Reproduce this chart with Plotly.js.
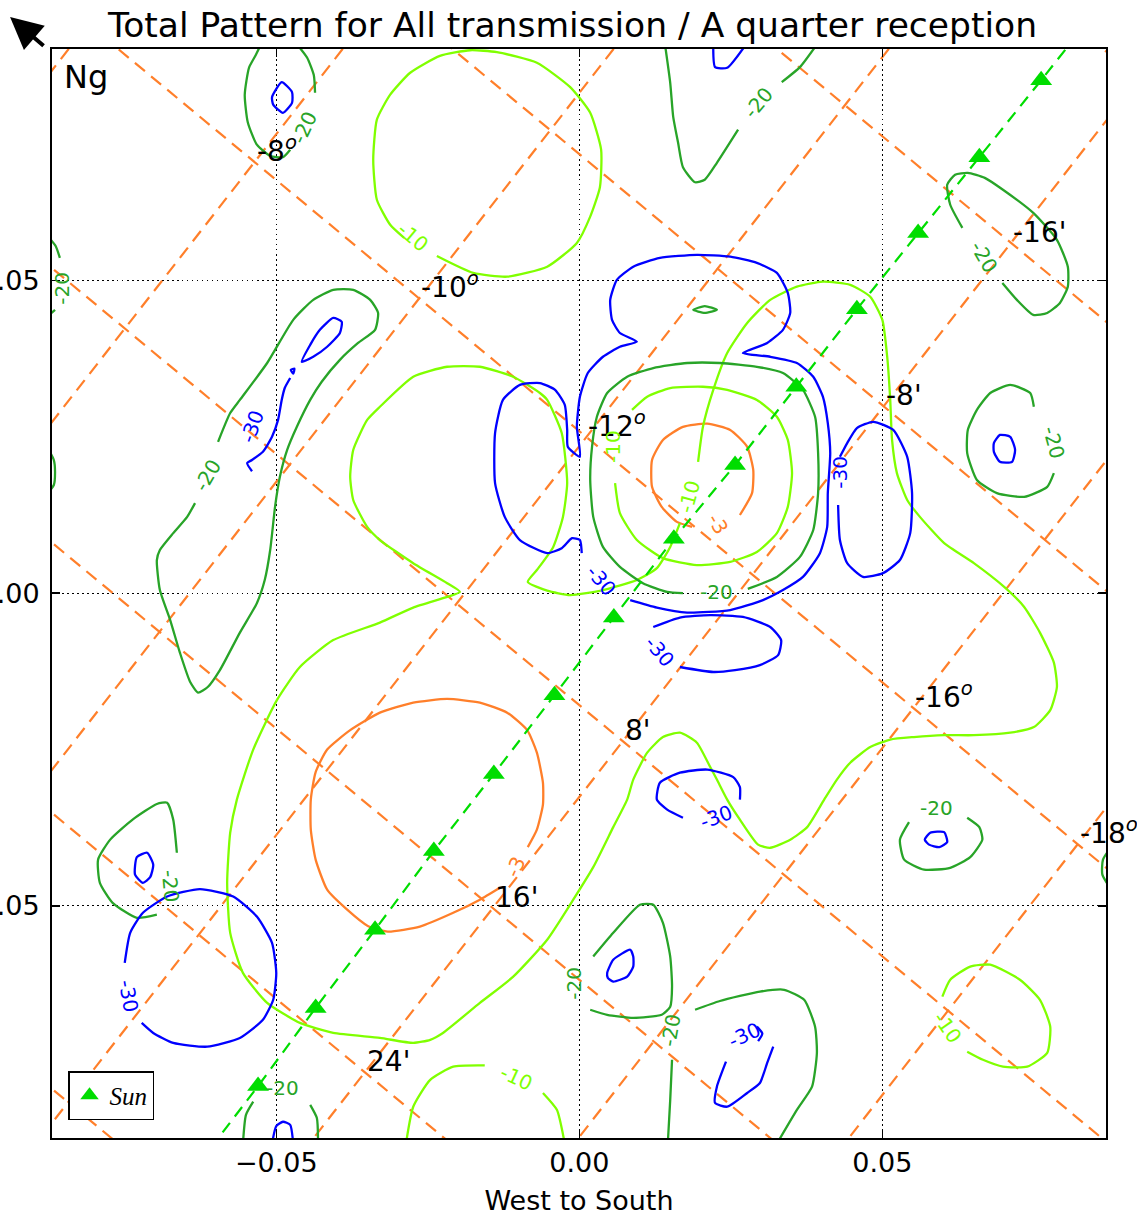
<!DOCTYPE html>
<html>
<head>
<meta charset="utf-8">
<script src="https://cdn.plot.ly/plotly-3.0.1.min.js"></script>
<style>
html,body{margin:0;padding:0;background:#ffffff;}
#chart{width:1137px;height:1221px;}
</style>
</head>
<body>
<div id="chart"></div>
<script>
// ================= DATA =================

// Contour levels (dB) and their line pieces [x, y] (West to South / vertical axis units)
const contourLevels = [-3, -10, -20, -30];

const contourM3 = [
  [[0.0265,0.0125],[0.0285,0.0160],[0.0287,0.0197],[0.0277,0.0234],[0.0249,0.0261],[0.0211,0.0271],[0.0171,0.0266],[0.0138,0.0245],[0.0120,0.0213],[0.0120,0.0170],[0.0136,0.0138],[0.0161,0.0114],[0.0186,0.0106]],
  [[-0.0131,-0.0471],[-0.0164,-0.0490],[-0.0208,-0.0511],[-0.0263,-0.0533],[-0.0316,-0.0541],[-0.0349,-0.0532],[-0.0383,-0.0506],[-0.0416,-0.0474],[-0.0435,-0.0426],[-0.0443,-0.0378],[-0.0443,-0.0330],[-0.0435,-0.0286],[-0.0416,-0.0250],[-0.0378,-0.0219],[-0.0329,-0.0191],[-0.0274,-0.0175],[-0.0218,-0.0169],[-0.0164,-0.0175],[-0.0119,-0.0191],[-0.0086,-0.0219],[-0.0070,-0.0255],[-0.0060,-0.0303],[-0.0060,-0.0338],[-0.0070,-0.0378],[-0.0085,-0.0406]]
];

const contourM10 = [
  [[-0.0235,0.0539],[-0.0175,0.0512],[-0.0119,0.0506],[-0.0053,0.0522],[-0.0004,0.0560],[0.0018,0.0602],[0.0034,0.0649],[0.0036,0.0709],[0.0018,0.0768],[-0.0015,0.0809],[-0.0070,0.0848],[-0.0136,0.0865],[-0.0180,0.0868],[-0.0230,0.0859],[-0.0279,0.0832],[-0.0312,0.0797],[-0.0334,0.0757],[-0.0340,0.0693],[-0.0334,0.0629],[-0.0312,0.0589],[-0.0289,0.0568]],
  [[0.0196,0.0210],[0.0204,0.0266],[0.0221,0.0325],[0.0244,0.0384],[0.0277,0.0432],[0.0315,0.0469],[0.0359,0.0490],[0.0402,0.0498],[0.0447,0.0493],[0.0480,0.0474],[0.0500,0.0437],[0.0508,0.0378],[0.0513,0.0309],[0.0516,0.0245],[0.0524,0.0192],[0.0541,0.0149],[0.0562,0.0122],[0.0602,0.0080],[0.0651,0.0048],[0.0701,0.0010],[0.0734,-0.0022],[0.0760,-0.0063],[0.0783,-0.0111],[0.0788,-0.0150],[0.0777,-0.0187],[0.0750,-0.0214],[0.0711,-0.0223],[0.0651,-0.0227],[0.0602,-0.0227],[0.0552,-0.0230],[0.0513,-0.0234],[0.0480,-0.0246],[0.0447,-0.0271],[0.0425,-0.0298],[0.0404,-0.0330],[0.0376,-0.0374],[0.0348,-0.0394],[0.0315,-0.0407],[0.0295,-0.0402],[0.0265,-0.0362],[0.0244,-0.0330],[0.0227,-0.0298],[0.0216,-0.0278],[0.0194,-0.0239],[0.0166,-0.0223],[0.0138,-0.0230],[0.0112,-0.0255],[0.0089,-0.0298],[0.0079,-0.0330],[0.0056,-0.0374],[0.0023,-0.0438],[-0.0010,-0.0490],[-0.0053,-0.0554],[-0.0109,-0.0613],[-0.0164,-0.0655],[-0.0225,-0.0703],[-0.0246,-0.0714],[-0.0274,-0.0719],[-0.0329,-0.0711],[-0.0406,-0.0703],[-0.0461,-0.0687],[-0.0515,-0.0655],[-0.0555,-0.0607],[-0.0576,-0.0543],[-0.0581,-0.0463],[-0.0576,-0.0383],[-0.0565,-0.0330],[-0.0538,-0.0250],[-0.0499,-0.0171],[-0.0461,-0.0118],[-0.0406,-0.0075],[-0.0329,-0.0047],[-0.0274,-0.0023],[-0.0218,-0.0006],[-0.0197,0.0002],[-0.0218,0.0016],[-0.0274,0.0048],[-0.0329,0.0085],[-0.0350,0.0106],[-0.0373,0.0149],[-0.0378,0.0186],[-0.0373,0.0229],[-0.0350,0.0277],[-0.0329,0.0298],[-0.0274,0.0346],[-0.0218,0.0362],[-0.0164,0.0362],[-0.0109,0.0346],[-0.0065,0.0320],[-0.0053,0.0309],[-0.0029,0.0256],[-0.0020,0.0176],[-0.0027,0.0122],[-0.0043,0.0074],[-0.0070,0.0037],[-0.0085,0.0018],[-0.0053,0.0004],[-0.0015,-0.0003],[0.0039,0.0005],[0.0095,0.0021],[0.0128,0.0040],[0.0150,0.0074],[0.0166,0.0112]],
  [[0.0059,0.0176],[0.0067,0.0128],[0.0095,0.0085],[0.0138,0.0056],[0.0194,0.0045],[0.0249,0.0050],[0.0293,0.0066],[0.0326,0.0096],[0.0344,0.0138],[0.0351,0.0192],[0.0344,0.0245],[0.0326,0.0282],[0.0293,0.0309],[0.0244,0.0325],[0.0204,0.0330],[0.0150,0.0328],[0.0112,0.0314],[0.0087,0.0293]],
  [[-0.0286,-0.0880],[-0.0274,-0.0821],[-0.0246,-0.0778],[-0.0208,-0.0757],[-0.0156,-0.0755]],
  [[-0.0060,-0.0799],[-0.0037,-0.0826],[-0.0024,-0.0880]],
  [[0.0599,-0.0645],[0.0612,-0.0618],[0.0645,-0.0597],[0.0678,-0.0594],[0.0727,-0.0618],[0.0760,-0.0650],[0.0777,-0.0693],[0.0772,-0.0735],[0.0739,-0.0757],[0.0699,-0.0757],[0.0666,-0.0746],[0.0640,-0.0733]]
];

const contourM20 = [
  [[-0.0468,0.0880],[-0.0449,0.0856],[-0.0438,0.0828],[-0.0436,0.0800]],
  [[-0.0477,0.0709],[-0.0489,0.0697],[-0.0510,0.0699],[-0.0532,0.0717],[-0.0547,0.0753],[-0.0552,0.0797],[-0.0545,0.0840],[-0.0534,0.0860],[-0.0524,0.0880]],
  [[-0.0880,0.0574],[-0.0864,0.0555],[-0.0857,0.0536]],
  [[-0.0865,0.0453],[-0.0880,0.0440]],
  [[-0.0880,0.0237],[-0.0867,0.0213],[-0.0865,0.0194],[-0.0867,0.0173],[-0.0880,0.0157]],
  [[-0.0596,0.0242],[-0.0576,0.0288],[-0.0560,0.0309],[-0.0515,0.0368],[-0.0472,0.0437],[-0.0439,0.0469],[-0.0406,0.0485],[-0.0373,0.0485],[-0.0345,0.0469],[-0.0332,0.0448],[-0.0337,0.0421],[-0.0365,0.0400],[-0.0395,0.0373],[-0.0425,0.0338],[-0.0444,0.0309],[-0.0466,0.0266],[-0.0482,0.0229],[-0.0494,0.0186],[-0.0502,0.0138],[-0.0510,0.0069],[-0.0519,0.0021],[-0.0532,-0.0016],[-0.0560,-0.0063],[-0.0593,-0.0123],[-0.0613,-0.0150],[-0.0629,-0.0159],[-0.0642,-0.0142],[-0.0659,-0.0095],[-0.0675,-0.0043],[-0.0692,0.0005],[-0.0697,0.0053],[-0.0692,0.0069],[-0.0670,0.0096],[-0.0647,0.0122],[-0.0634,0.0144]],
  [[0.0278,0.0007],[0.0326,0.0026],[0.0364,0.0058],[0.0386,0.0101],[0.0394,0.0160],[0.0394,0.0224],[0.0389,0.0282],[0.0369,0.0325],[0.0336,0.0352],[0.0293,0.0362],[0.0232,0.0368],[0.0178,0.0368],[0.0122,0.0360],[0.0079,0.0346],[0.0046,0.0320],[0.0029,0.0282],[0.0021,0.0234],[0.0018,0.0181],[0.0023,0.0122],[0.0039,0.0074],[0.0067,0.0042],[0.0105,0.0016],[0.0145,0.0002],[0.0171,0.0000]],
  [[0.0141,0.0880],[0.0150,0.0816],[0.0155,0.0761],[0.0163,0.0720],[0.0171,0.0681],[0.0191,0.0657],[0.0207,0.0661],[0.0227,0.0688],[0.0262,0.0741]],
  [[0.0334,0.0817],[0.0364,0.0841],[0.0394,0.0880]],
  [[0.0632,0.0584],[0.0612,0.0621],[0.0607,0.0653],[0.0620,0.0669],[0.0641,0.0672],[0.0669,0.0664],[0.0699,0.0645],[0.0749,0.0608],[0.0788,0.0565],[0.0806,0.0522],[0.0806,0.0490],[0.0793,0.0464],[0.0772,0.0448],[0.0749,0.0445],[0.0722,0.0469],[0.0698,0.0496]],
  [[0.0750,0.0298],[0.0744,0.0320],[0.0711,0.0333],[0.0678,0.0320],[0.0656,0.0293],[0.0641,0.0261],[0.0640,0.0224],[0.0656,0.0181],[0.0689,0.0160],[0.0734,0.0154],[0.0772,0.0170],[0.0783,0.0192]],
  [[0.0640,-0.0359],[0.0660,-0.0374],[0.0665,-0.0394],[0.0645,-0.0422],[0.0612,-0.0439],[0.0569,-0.0442],[0.0536,-0.0426],[0.0529,-0.0394],[0.0544,-0.0366]],
  [[-0.0697,-0.0514],[-0.0730,-0.0519],[-0.0770,-0.0495],[-0.0791,-0.0463],[-0.0794,-0.0426],[-0.0774,-0.0394],[-0.0737,-0.0362],[-0.0697,-0.0337],[-0.0680,-0.0335],[-0.0670,-0.0362],[-0.0664,-0.0415]],
  [[-0.0555,-0.0880],[-0.0550,-0.0834],[-0.0538,-0.0813]],
  [[-0.0444,-0.0818],[-0.0433,-0.0839],[-0.0431,-0.0880]],
  [[0.0018,-0.0666],[0.0046,-0.0674],[0.0089,-0.0679],[0.0136,-0.0674],[0.0150,-0.0661],[0.0153,-0.0629],[0.0150,-0.0581],[0.0138,-0.0527],[0.0122,-0.0498],[0.0100,-0.0498],[0.0056,-0.0543],[0.0023,-0.0581]],
  [[0.0146,-0.0880],[0.0150,-0.0810],[0.0153,-0.0746]],
  [[0.0191,-0.0666],[0.0232,-0.0652],[0.0298,-0.0637],[0.0338,-0.0634],[0.0371,-0.0650],[0.0389,-0.0693],[0.0392,-0.0735],[0.0384,-0.0789],[0.0359,-0.0826],[0.0326,-0.0880]],
  [[0.0880,-0.0402],[0.0864,-0.0426],[0.0863,-0.0450],[0.0880,-0.0477]],
  [[0.0188,0.0453],[0.0207,0.0459],[0.0227,0.0453],[0.0207,0.0448],[0.0188,0.0453]]
];

const contourM30 = [
  [[-0.0507,0.0793],[-0.0491,0.0817],[-0.0474,0.0801],[-0.0474,0.0784],[-0.0489,0.0768],[-0.0505,0.0781],[-0.0507,0.0793]],
  [[-0.0458,0.0370],[-0.0444,0.0397],[-0.0428,0.0421],[-0.0406,0.0440],[-0.0392,0.0434],[-0.0395,0.0416],[-0.0416,0.0394],[-0.0439,0.0378],[-0.0458,0.0370]],
  [[-0.0476,0.0357],[-0.0470,0.0359],[-0.0472,0.0351],[-0.0476,0.0357]],
  [[-0.0477,0.0344],[-0.0486,0.0328],[-0.0491,0.0309],[-0.0497,0.0277],[-0.0507,0.0250],[-0.0522,0.0226],[-0.0540,0.0213],[-0.0548,0.0208],[-0.0540,0.0195]],
  [[0.0004,0.0064],[0.0001,0.0085],[-0.0012,0.0088],[-0.0029,0.0072],[-0.0053,0.0064],[-0.0098,0.0085],[-0.0123,0.0122],[-0.0139,0.0176],[-0.0139,0.0256],[-0.0126,0.0309],[-0.0098,0.0333],[-0.0065,0.0336],[-0.0040,0.0325],[-0.0024,0.0301],[-0.0020,0.0261],[-0.0019,0.0234],[0.0001,0.0218],[-0.0004,0.0266],[0.0001,0.0314],[0.0014,0.0352],[0.0039,0.0378],[0.0067,0.0394],[0.0095,0.0402],[0.0067,0.0416],[0.0054,0.0437],[0.0051,0.0469],[0.0062,0.0501],[0.0089,0.0522],[0.0133,0.0536],[0.0194,0.0541],[0.0249,0.0538],[0.0293,0.0528],[0.0326,0.0512],[0.0344,0.0480],[0.0348,0.0448],[0.0336,0.0421],[0.0310,0.0400],[0.0270,0.0384],[0.0315,0.0378],[0.0359,0.0368],[0.0386,0.0346],[0.0402,0.0314],[0.0410,0.0272],[0.0414,0.0224],[0.0410,0.0160],[0.0409,0.0106],[0.0397,0.0064],[0.0369,0.0026],[0.0336,0.0005],[0.0303,-0.0011],[0.0249,-0.0027],[0.0178,-0.0031],[0.0128,-0.0023],[0.0084,-0.0011]],
  [[0.0166,-0.0118],[0.0221,-0.0126],[0.0257,-0.0123],[0.0298,-0.0115],[0.0328,-0.0099],[0.0333,-0.0075],[0.0315,-0.0054],[0.0270,-0.0038],[0.0216,-0.0035],[0.0166,-0.0039],[0.0122,-0.0054]],
  [[0.0430,0.0218],[0.0442,0.0240],[0.0458,0.0264],[0.0485,0.0274],[0.0518,0.0261],[0.0541,0.0218],[0.0549,0.0160],[0.0546,0.0096],[0.0529,0.0053],[0.0501,0.0032],[0.0468,0.0026],[0.0442,0.0048],[0.0430,0.0085],[0.0427,0.0141]],
  [[0.0684,0.0240],[0.0694,0.0253],[0.0711,0.0250],[0.0719,0.0229],[0.0714,0.0210],[0.0694,0.0210],[0.0684,0.0226],[0.0684,0.0240]],
  [[0.0570,-0.0394],[0.0579,-0.0383],[0.0602,-0.0382],[0.0607,-0.0398],[0.0594,-0.0406],[0.0577,-0.0402],[0.0570,-0.0394]],
  [[0.0171,-0.0359],[0.0145,-0.0346],[0.0128,-0.0330],[0.0133,-0.0303],[0.0166,-0.0287],[0.0211,-0.0282],[0.0254,-0.0294],[0.0265,-0.0310],[0.0265,-0.0330]],
  [[-0.0722,-0.0687],[-0.0703,-0.0703],[-0.0670,-0.0719],[-0.0614,-0.0725],[-0.0560,-0.0711],[-0.0522,-0.0682],[-0.0505,-0.0650],[-0.0500,-0.0607],[-0.0507,-0.0559],[-0.0532,-0.0517],[-0.0571,-0.0485],[-0.0626,-0.0473],[-0.0680,-0.0485],[-0.0720,-0.0511],[-0.0741,-0.0543],[-0.0750,-0.0591]],
  [[-0.0730,-0.0422],[-0.0713,-0.0415],[-0.0703,-0.0434],[-0.0708,-0.0454],[-0.0720,-0.0463],[-0.0733,-0.0450],[-0.0730,-0.0422]],
  [[-0.0507,-0.0880],[-0.0500,-0.0852],[-0.0489,-0.0845],[-0.0477,-0.0850],[-0.0472,-0.0880]],
  [[0.0046,-0.0607],[0.0056,-0.0586],[0.0084,-0.0570],[0.0089,-0.0581],[0.0089,-0.0597],[0.0079,-0.0613],[0.0056,-0.0621],[0.0047,-0.0615],[0.0046,-0.0607]],
  [[0.0293,-0.0693],[0.0302,-0.0704],[0.0295,-0.0716]],
  [[0.0242,-0.0749],[0.0227,-0.0789],[0.0224,-0.0815],[0.0244,-0.0821],[0.0277,-0.0799],[0.0298,-0.0783],[0.0310,-0.0751],[0.0320,-0.0725]],
  [[0.0221,0.0880],[0.0224,0.0841],[0.0244,0.0840],[0.0277,0.0880]]
];

// Contour label placements: level, x, y, rotation (deg)
const contourLabelLevel = [-20,-20,-20,-30,-10,-20,-20,-20,-20,-30,-30,-30,-10,-10,-3,-3,-30,-30,-20,-20,-20,-20,-30,-20,-10,-10];
const contourLabelX = [-0.0453,-0.0854,-0.0613,-0.0540,-0.0274,0.0295,0.0668,0.0783,0.0226,0.0037,0.0430,0.0133,0.0056,0.0181,0.0229,-0.0106,0.0226,-0.0743,-0.0674,-0.0489,-0.0009,0.0151,0.0273,0.0590,-0.0103,0.0608];
const contourLabelY = [0.0745,0.0488,0.0189,0.0266,0.0570,0.0784,0.0538,0.0240,0.0002,0.0020,0.0194,-0.0094,0.0234,0.0154,0.0111,-0.0437,-0.0358,-0.0645,-0.0469,-0.0791,-0.0623,-0.0698,-0.0706,-0.0343,-0.0775,-0.0695];
const contourLabelAngle = [-65,-90,-60,-70,40,-50,60,75,0,50,-90,50,-90,-75,60,-65,-20,80,85,0,-90,-80,-25,0,25,55];

// Sun track (triangles)
const sunX = [0.0863,0.0762,0.0660,0.0559,0.0458,0.0358,0.0257,0.0156,0.0057,-0.0041,-0.0141,-0.0240,-0.0337,-0.0435,-0.0530,-0.0628];
const sunY = [0.0944,0.0820,0.0697,0.0576,0.0454,0.0330,0.0205,0.0087,-0.0039,-0.0163,-0.0289,-0.0412,-0.0538,-0.0663,-0.0788,-0.0912];

// Declination lines (degrees): x at y=-0.1 and at y=+0.1
const decValues = [-6,-8,-10,-12,-14,-16,-18];
const decXatLow  = [-0.2346,-0.1894,-0.1447,-0.0993,-0.0542,-0.0105,0.0341];
const decXatHigh = [-0.0738,-0.0286,0.0161,0.0615,0.1066,0.1503,0.1949];
const decYends = [-0.1, 0.1];
const decShown = [-8,-10,-12,-16,-18];

// Time lines (minutes): y at x=-0.1 and at x=+0.1
const timeValues = [-24,-16,-8,0,8,16,24,32];
const timeYatLeft  = [0.2367,0.1935,0.1505,0.1062,0.0624,0.0185,-0.0247,-0.0688];
const timeYatRight = [0.0761,0.0329,-0.0101,-0.0544,-0.0982,-0.1421,-0.1853,-0.2294];
const timeXends = [-0.1, 0.1];
const timeShown = [-16,-8,8,16,24];

// Tick labels
const tickVals = [-0.05, 0, 0.05];
const tickText = ['\u22120.05', '0.00', '0.05'];

// ================= STYLES =================
const COL = {'-3':'#ff7f2a','-10':'#80ff00','-20':'#28a428','-30':'#0000ff'};
const ORANGE = '#ff7f2a';
const SUNCOL = '#00dd00';
const FONT = 'DejaVu Sans';

function piecesToXY(pieces){
  const x=[], y=[];
  pieces.forEach((p,i)=>{
    if(i>0){x.push(null);y.push(null);}
    p.forEach(q=>{x.push(q[0]);y.push(q[1]);});
  });
  return {x,y};
}

const traces = [];

// declination lines
(function(){
  const x=[],y=[];
  decValues.forEach((d,i)=>{ x.push(decXatLow[i],decXatHigh[i],null); y.push(decYends[0],decYends[1],null); });
  traces.push({type:'scatter',mode:'lines',x,y,line:{color:ORANGE,width:2.2,dash:'13px,8px'},hoverinfo:'skip',showlegend:false});
})();
// time lines
(function(){
  const x=[],y=[];
  timeValues.forEach((t,i)=>{ x.push(timeXends[0],timeXends[1],null); y.push(timeYatLeft[i],timeYatRight[i],null); });
  traces.push({type:'scatter',mode:'lines',x,y,line:{color:ORANGE,width:2.2,dash:'13px,8px'},hoverinfo:'skip',showlegend:false});
})();

// contours
const contourPieces = {'-3':contourM3,'-10':contourM10,'-20':contourM20,'-30':contourM30};
contourLevels.forEach(lv=>{
  const xy = piecesToXY(contourPieces[String(lv)]);
  traces.push({type:'scatter',mode:'lines',x:xy.x,y:xy.y,
    line:{color:COL[String(lv)],width:2.3,shape:'spline',smoothing:0.55},
    hoverinfo:'skip',showlegend:false,name:String(lv)});
});

// sun track
traces.push({type:'scatter',mode:'lines+markers',x:sunX,y:sunY,
  line:{color:SUNCOL,width:2.2,dash:'12px,8px'},
  marker:{symbol:'triangle-up',size:19,color:SUNCOL},
  hoverinfo:'skip',showlegend:false});
// legend entry (marker only)
traces.push({type:'scatter',mode:'markers',x:[null],y:[null],
  marker:{symbol:'triangle-up',size:17,color:SUNCOL},
  name:'<i>Sun</i>',showlegend:true,hoverinfo:'skip'});

// ================= ANNOTATIONS =================
function intersect(p1,p2,p3,p4){
  const d=(p1[0]-p2[0])*(p3[1]-p4[1])-(p1[1]-p2[1])*(p3[0]-p4[0]);
  const a=p1[0]*p2[1]-p1[1]*p2[0], b=p3[0]*p4[1]-p3[1]*p4[0];
  return [(a*(p3[0]-p4[0])-(p1[0]-p2[0])*b)/d,(a*(p3[1]-p4[1])-(p1[1]-p2[1])*b)/d];
}
function decLine(d){const i=decValues.indexOf(d);return [[decXatLow[i],decYends[0]],[decXatHigh[i],decYends[1]]];}
function timeLine(t){const i=timeValues.indexOf(t);return [[timeXends[0],timeYatLeft[i]],[timeXends[1],timeYatRight[i]]];}

const annotations = [];
decShown.forEach(d=>{
  const L1=decLine(d), L2=timeLine(0);
  const p=intersect(L1[0],L1[1],L2[0],L2[1]);
  annotations.push({x:p[0],y:p[1],xref:'x',yref:'y',text:String(d)+'<sup><i>o</i></sup>',showarrow:false,
    xanchor:'left',yanchor:'bottom',yshift:-8,font:{family:FONT,size:28,color:'#000'}});
});
timeShown.forEach(t=>{
  const L1=timeLine(t), L2=decLine(-14);
  const p=intersect(L1[0],L1[1],L2[0],L2[1]);
  annotations.push({x:p[0],y:p[1],xref:'x',yref:'y',text:String(t)+"'",showarrow:false,
    xanchor:'left',yanchor:'bottom',yshift:-8,font:{family:FONT,size:28,color:'#000'}});
});
contourLabelLevel.forEach((lv,i)=>{
  annotations.push({x:contourLabelX[i],y:contourLabelY[i],xref:'x',yref:'y',text:String(lv),showarrow:false,
    textangle:contourLabelAngle[i],xanchor:'center',yanchor:'middle',font:{family:FONT,size:20,color:COL[String(lv)]}});
});
// "Ng"
annotations.push({x:0.0095,y:0.9743,xref:'paper',yref:'paper',text:'Ng',showarrow:false,xanchor:'left',yanchor:'middle',
  font:{family:FONT,size:32,color:'#000'}});
// North arrow
annotations.push({x:-0.0398,y:1.0294,xref:'paper',yref:'paper',text:'',showarrow:true,ax:35,ay:30,
  arrowhead:2,arrowsize:1.6,arrowwidth:4,arrowcolor:'#000',standoff:0,startstandoff:0});

const axisCommon = {
  tickvals:tickVals, ticktext:tickText, tickfont:{family:FONT,size:27,color:'#000'},
  ticks:'inside', ticklen:8, tickwidth:1.5, tickcolor:'#000',
  showline:true, linecolor:'#000', linewidth:2, mirror:'ticks',
  showgrid:true, gridcolor:'#000', gridwidth:1, griddash:'1.5px,3.5px',
  zeroline:false, automargin:false, fixedrange:true
};

const layout = {
  width:1137, height:1221,
  margin:{l:52,r:31,t:49,b:83,pad:0},
  paper_bgcolor:'#ffffff', plot_bgcolor:'#ffffff',
  font:{family:FONT,color:'#000'},
  title:{text:'Total Pattern for All transmission / A quarter reception',
    font:{family:FONT,size:34.5,color:'#000'},
    xref:'container',yref:'container',x:0.5035,xanchor:'center',y:0.9795,yanchor:'middle'},
  xaxis:Object.assign({range:[-0.0870,0.0869],
    title:{text:'West to South',font:{family:FONT,size:27,color:'#000'},standoff:14}},axisCommon),
  yaxis:Object.assign({range:[-0.0871,0.0870],ticklabelstandoff:5},axisCommon),
  showlegend:true,
  legend:{x:0.0152,y:0.0165,xanchor:'left',yanchor:'bottom',bgcolor:'#ffffff',bordercolor:'#000',borderwidth:1.5,
    font:{family:'Liberation Serif',size:25,color:'#000'},itemwidth:30,tracegroupgap:0},
  annotations:annotations
};

Plotly.newPlot('chart', traces, layout, {displayModeBar:false,staticPlot:true});
</script>
</body>
</html>
